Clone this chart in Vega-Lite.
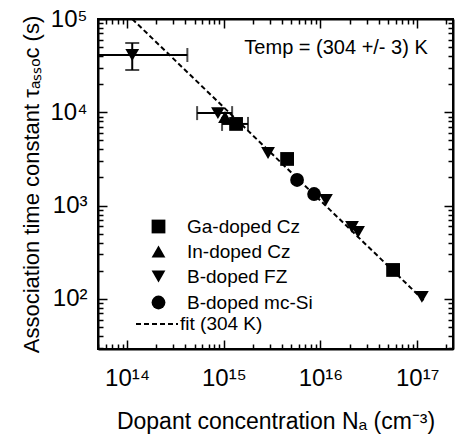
{
  "$schema": "https://vega.github.io/schema/vega-lite/v6.json",
  "width": 355,
  "height": 330,
  "autosize": {"type": "none"},
  "padding": {"left": 98, "top": 19, "right": 8, "bottom": 85},
  "background": "white",
  "config": {
    "font": "Liberation Sans",
    "view": {"stroke": "black", "strokeWidth": 2},
    "axis": {"grid": false, "domainColor": "black", "domainWidth": 2, "tickColor": "black", "tickWidth": 1.5, "labelColor": "black", "titleColor": "black", "labelFont": "Liberation Sans", "titleFont": "Liberation Sans", "titleFontWeight": "normal", "labelOverlap": false, "labelBound": false, "labelFlush": false},
    "legend": {"labelFont": "Liberation Sans", "labelColor": "black", "padding": 0}
  },
  "datasets": {
    "points": [
      {"N": 1.13e14, "tau": 41100, "type": "B-doped FZ"},
      {"N": 8.7e14, "tau": 9800, "type": "B-doped FZ"},
      {"N": 1.03e15, "tau": 8900, "type": "In-doped Cz"},
      {"N": 1.34e15, "tau": 7500, "type": "Ga-doped Cz"},
      {"N": 2.87e15, "tau": 3660, "type": "B-doped FZ"},
      {"N": 4.52e15, "tau": 3160, "type": "Ga-doped Cz"},
      {"N": 5.73e15, "tau": 1880, "type": "B-doped mc-Si"},
      {"N": 8.59e15, "tau": 1330, "type": "B-doped mc-Si"},
      {"N": 1.14e16, "tau": 1150, "type": "B-doped FZ"},
      {"N": 2.12e16, "tau": 590, "type": "B-doped FZ"},
      {"N": 2.45e16, "tau": 521, "type": "B-doped FZ"},
      {"N": 5.64e16, "tau": 204, "type": "Ga-doped Cz"},
      {"N": 1.12e17, "tau": 105, "type": "B-doped FZ"}
    ],
    "xerr": [
      {"N": 1.13e14, "tau": 41100, "Nlo": 3e13, "Nhi": 4.2e14},
      {"N": 8.7e14, "tau": 9800, "Nlo": 5.3e14, "Nhi": 1.22e15},
      {"N": 1.34e15, "tau": 7500, "Nlo": 9.6e14, "Nhi": 1.78e15}
    ],
    "yerr": [
      {"N": 1.13e14, "tau": 41100, "taulo": 28400, "tauhi": 55300}
    ],
    "fit": [
      {"N": 1.13e14, "tau": 100000, "series": "fit (304 K)"},
      {"N": 1.2e17, "tau": 94, "series": "fit (304 K)"}
    ],
    "note": [
      {"N": 1.45e16, "tau": 48900, "label": "Temp = (304 +/- 3) K"}
    ]
  },
  "resolve": {"axis": {"x": "independent", "y": "independent"}},
  "layer": [
    {
      "data": {"name": "fit"},
      "mark": {"type": "line", "color": "black", "strokeWidth": 2, "clip": true},
      "encoding": {
        "x": {"field": "N", "type": "quantitative", "scale": {"type": "log", "domain": [5e13, 2.35e17], "nice": false},
          "axis": {"orient": "bottom", "title": "Dopant concentration Nₐ (cm⁻³)", "titleFontSize": 23, "titlePadding": 16, "labelFontSize": 24, "labelPadding": 26,
            "values": [5e13,6e13,7e13,8e13,9e13,1e14,2e14,3e14,4e14,5e14,6e14,7e14,8e14,9e14,1e15,2e15,3e15,4e15,5e15,6e15,7e15,8e15,9e15,1e16,2e16,3e16,4e16,5e16,6e16,7e16,8e16,9e16,1e17,2e17],
            "labelExpr": "datum.value==1e14?'10¹⁴':datum.value==1e15?'10¹⁵':datum.value==1e16?'10¹⁶':datum.value==1e17?'10¹⁷':''",
            "tickSize": {"condition": {"test": "datum.value==1e14||datum.value==1e15||datum.value==1e16||datum.value==1e17", "value": -9}, "value": -5}}},
        "y": {"field": "tau", "type": "quantitative", "scale": {"type": "log", "domain": [29, 100000], "nice": false},
          "axis": {"orient": "left", "title": "Association time constant τₐₛₛₒc (s)", "titleFontSize": 22, "titlePadding": 6, "labelFontSize": 24, "labelPadding": 20,
            "values": [30,40,50,60,70,80,90,100,200,300,400,500,600,700,800,900,1000,2000,3000,4000,5000,6000,7000,8000,9000,10000,20000,30000,40000,50000,60000,70000,80000,90000,100000],
            "labelExpr": "datum.value==100?'10²':datum.value==1000?'10³':datum.value==10000?'10⁴':datum.value==100000?'10⁵':''",
            "tickSize": {"condition": {"test": "datum.value==100||datum.value==1000||datum.value==10000||datum.value==100000", "value": -9}, "value": -5}}},
        "strokeDash": {"field": "series", "type": "nominal", "scale": {"range": [[5, 3]]},
          "legend": {"orient": "none", "legendX": 37, "legendY": 283, "title": null, "symbolSize": 1764, "symbolStrokeWidth": 2, "symbolStrokeColor": "black", "labelFontSize": 19, "labelOffset": 1}}
      }
    },
    {
      "data": {"name": "xerr"},
      "mark": {"type": "rule", "color": "black", "strokeWidth": 2, "clip": true},
      "encoding": {
        "x": {"field": "Nlo", "type": "quantitative", "axis": null},
        "x2": {"field": "Nhi"},
        "y": {"field": "tau", "type": "quantitative", "axis": null}
      }
    },
    {
      "data": {"name": "xerr"},
      "transform": [{"fold": ["Nlo", "Nhi"], "as": ["end", "Nend"]}],
      "mark": {"type": "tick", "orient": "vertical", "color": "black", "thickness": 2, "size": 14, "clip": true},
      "encoding": {
        "x": {"field": "Nend", "type": "quantitative", "axis": null},
        "y": {"field": "tau", "type": "quantitative", "axis": null}
      }
    },
    {
      "data": {"name": "yerr"},
      "mark": {"type": "rule", "color": "black", "strokeWidth": 2, "clip": true},
      "encoding": {
        "x": {"field": "N", "type": "quantitative", "axis": null},
        "y": {"field": "taulo", "type": "quantitative", "axis": null},
        "y2": {"field": "tauhi"}
      }
    },
    {
      "data": {"name": "yerr"},
      "transform": [{"fold": ["taulo", "tauhi"], "as": ["end", "tauend"]}],
      "mark": {"type": "tick", "orient": "horizontal", "color": "black", "thickness": 2, "size": 14, "clip": true},
      "encoding": {
        "x": {"field": "N", "type": "quantitative", "axis": null},
        "y": {"field": "tauend", "type": "quantitative", "axis": null}
      }
    },
    {
      "data": {"name": "points"},
      "mark": {"type": "point", "filled": true, "color": "black", "opacity": 1, "size": 190},
      "encoding": {
        "x": {"field": "N", "type": "quantitative", "axis": null},
        "y": {"field": "tau", "type": "quantitative", "axis": null},
        "shape": {"field": "type", "type": "nominal",
          "scale": {"domain": ["Ga-doped Cz", "In-doped Cz", "B-doped FZ", "B-doped mc-Si"], "range": ["square", "triangle-up", "triangle-down", "circle"]},
          "legend": {"orient": "none", "legendX": 51, "legendY": 198, "title": null, "symbolSize": 190, "symbolFillColor": "black", "symbolStrokeColor": "black", "labelFontSize": 19, "labelOffset": 19, "rowPadding": 5}}
      }
    },
    {
      "data": {"name": "note"},
      "mark": {"type": "text", "fontSize": 20, "color": "black", "align": "center", "baseline": "middle"},
      "encoding": {
        "x": {"field": "N", "type": "quantitative",
          "axis": {"orient": "top", "title": null, "labels": false,
            "values": [5e13,6e13,7e13,8e13,9e13,1e14,2e14,3e14,4e14,5e14,6e14,7e14,8e14,9e14,1e15,2e15,3e15,4e15,5e15,6e15,7e15,8e15,9e15,1e16,2e16,3e16,4e16,5e16,6e16,7e16,8e16,9e16,1e17,2e17],
            "tickSize": {"condition": {"test": "datum.value==1e14||datum.value==1e15||datum.value==1e16||datum.value==1e17", "value": -9}, "value": -5}}},
        "y": {"field": "tau", "type": "quantitative",
          "axis": {"orient": "right", "title": null, "labels": false,
            "values": [30,40,50,60,70,80,90,100,200,300,400,500,600,700,800,900,1000,2000,3000,4000,5000,6000,7000,8000,9000,10000,20000,30000,40000,50000,60000,70000,80000,90000,100000],
            "tickSize": {"condition": {"test": "datum.value==100||datum.value==1000||datum.value==10000||datum.value==100000", "value": -9}, "value": -5}}},
        "text": {"field": "label"}
      }
    }
  ]
}
